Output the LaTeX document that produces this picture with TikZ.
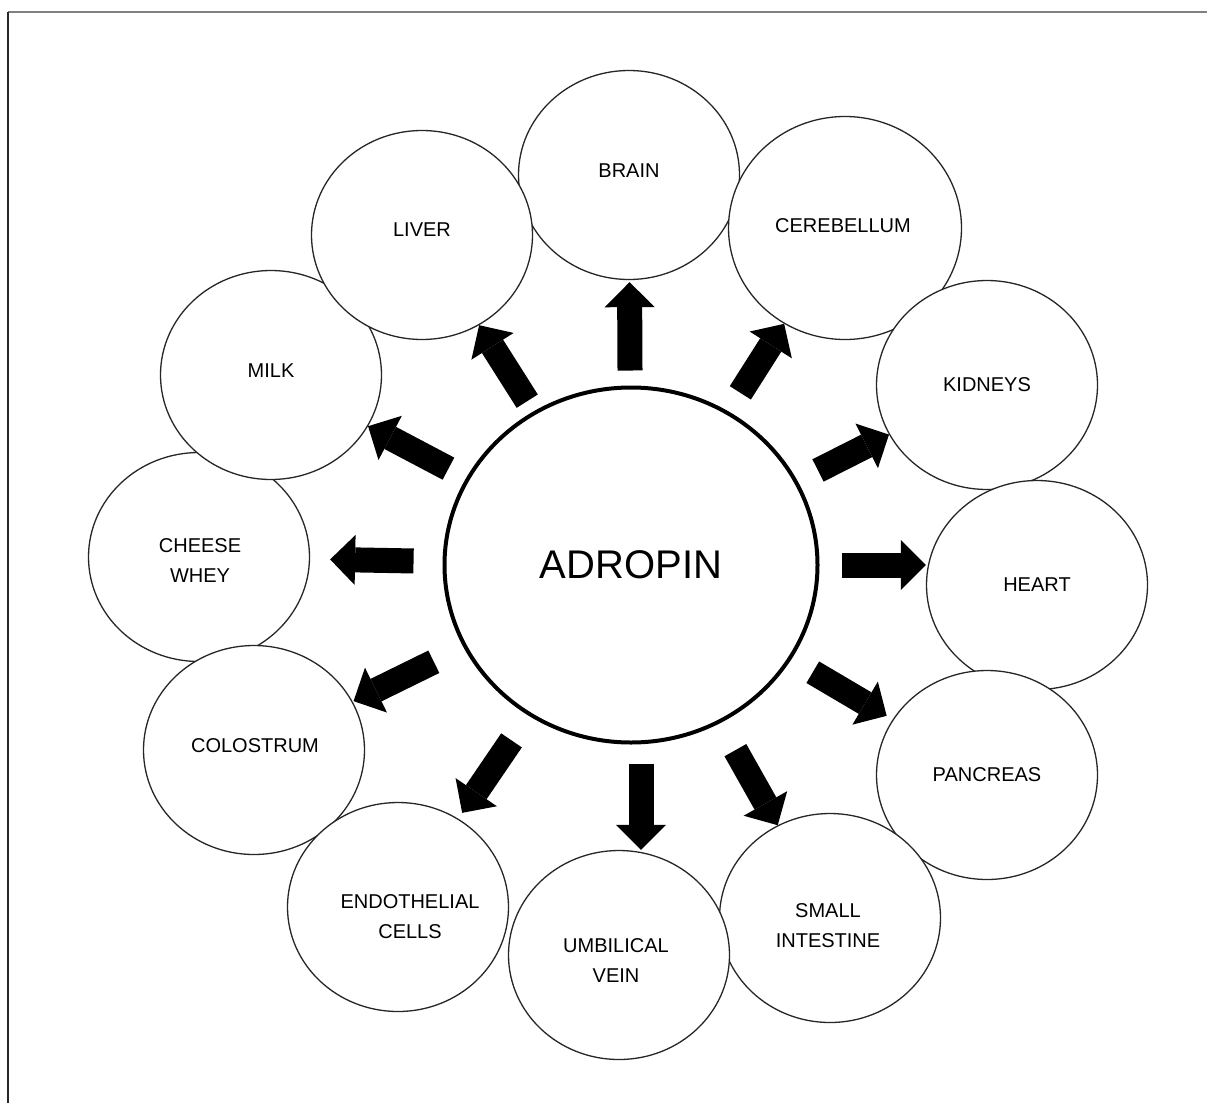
\documentclass[tikz,border=0pt]{standalone}
\usepackage{fontspec}
\setmainfont{Liberation Sans}
\usetikzlibrary{shapes.geometric,arrows.meta}

\begin{document}
\begin{tikzpicture}[x=1pt, y=-1pt,
    organ/.style={ellipse, draw=black!85, line width=1.3pt, fill=white,
        minimum width=221pt, minimum height=209pt, inner sep=0pt},
    organtext/.style={align=center, inner sep=0pt, font=\fontsize{20}{30}\selectfont},
    bigarrow/.style={line width=25pt,
        -{Triangle[length=25pt, width=50pt, line width=0pt]}}]
    \useasboundingbox (0,0) rectangle (1207,1103);
    % Frame (only top and left edges show)
    \draw[gray, line width=2pt] (8,12) -- (1207,12);
    \draw[black!85, line width=2pt] (8,12) -- (8,1103);
    % Outer circles, labels nudged to where the reference prints them
    \node[organ, label={[organtext, yshift=4pt]center:BRAIN}] (brain) at (629,175) {};
    \node[organ, minimum width=233pt, minimum height=223pt,
        label={[organtext, xshift=-2pt, yshift=2pt]center:CEREBELLUM}] (cerebellum) at (845,228) {};
    \node[organ, label={[organtext]center:KIDNEYS}] (kidneys) at (987,385) {};
    \node[organ, label={[organtext]center:HEART}] (heart) at (1037,585) {};
    \node[organ, label={[organtext]center:PANCREAS}] (pancreas) at (987,775) {};
    \node[organ, label={[organtext, xshift=-2pt, yshift=-8pt]center:{SMALL\\INTESTINE}}] (smallint) at (830,918) {};
    \node[organ, label={[organtext, xshift=-3pt, yshift=-6pt]center:{UMBILICAL\\VEIN}}] (umbilical) at (619,955) {};
    \node[organ, label={[organtext, xshift=1pt, yshift=-4pt]center:{CHEESE\\WHEY}}] (cheese) at (199,557) {};
    \node[organ, label={[organtext, xshift=1pt, yshift=4pt]center:COLOSTRUM}] (colostrum) at (254,750) {};
    \node[organ, label={[organtext, xshift=12pt, yshift=-10pt]center:{ENDOTHELIAL\\CELLS}}] (endothelial) at (398,907) {};
    \node[organ, label={[organtext, yshift=4pt]center:MILK}] (milk) at (271,375) {};
    \node[organ, label={[organtext, yshift=5pt]center:LIVER}] (liver) at (422,235) {};
    % Centre circle
    \node[ellipse, draw, line width=4pt, fill=white, minimum width=373pt,
        minimum height=355pt, font=\fontsize{40}{48}\selectfont] (adropin) at (631,565) {ADROPIN};
    % Arrows out of the centre
    \foreach \target/\sa/\sb in {brain/15pt/2pt, cerebellum/22pt/0pt, kidneys/23pt/0pt,
        pancreas/25pt/7pt, smallint/31pt/0pt, endothelial/30pt/7pt, colostrum/33pt/1pt,
        cheese/29pt/20pt, milk/20pt/0pt, liver/12pt/0pt}
        \draw[bigarrow, shorten <=\sa, shorten >=\sb] (adropin) -- (\target);
    \draw[bigarrow, shorten <=22pt] (adropin.east) -- (adropin.east -| heart.west);
    \draw[bigarrow, shorten <=19pt] ([xshift=10pt]adropin.south) -- ([xshift=10pt]adropin.south |- umbilical.north);
\end{tikzpicture}
\end{document}
